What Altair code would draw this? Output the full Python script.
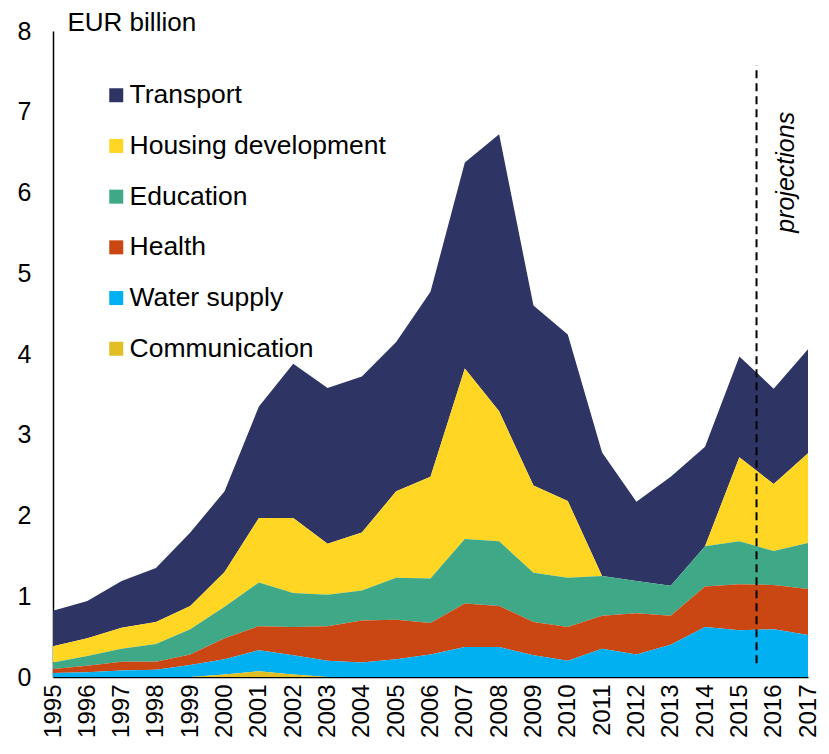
import altair as alt
import pandas as pd

years = list(range(1995, 2018))

series_names = ["Transport", "Housing development", "Education", "Health",
                "Water supply", "Communication"]
colors = ["#2E3464", "#FED623", "#3FA886", "#CA4714", "#00B0F0", "#E1BE23"]

transport = [0.44, 0.46, 0.58, 0.67, 0.91, 1.00, 1.38, 1.91, 1.93, 1.93, 1.85, 2.29,
             2.55, 3.43, 2.23, 2.06, 1.53, 0.98, 1.35, 1.23, 1.25, 1.18, 1.29]
housing = [0.20, 0.22, 0.26, 0.27, 0.29, 0.43, 0.80, 0.93, 0.63, 0.72, 1.07, 1.26,
           2.11, 1.61, 1.08, 0.95, 0.00, 0.00, 0.00, 0.00, 1.04, 0.83, 1.11]
education = [0.08, 0.12, 0.16, 0.22, 0.31, 0.39, 0.54, 0.42, 0.39, 0.37, 0.52, 0.55,
             0.80, 0.80, 0.61, 0.61, 0.49, 0.40, 0.37, 0.50, 0.53, 0.42, 0.57]
health = [0.05, 0.08, 0.11, 0.10, 0.13, 0.26, 0.30, 0.35, 0.43, 0.52, 0.49, 0.39,
          0.54, 0.51, 0.41, 0.42, 0.41, 0.51, 0.36, 0.50, 0.57, 0.55, 0.57]
water = [0.05, 0.06, 0.08, 0.09, 0.15, 0.19, 0.26, 0.24, 0.20, 0.18, 0.22, 0.28,
         0.37, 0.37, 0.27, 0.20, 0.35, 0.28, 0.40, 0.62, 0.58, 0.59, 0.52]
communication = [0.00, 0.00, 0.00, 0.00, 0.00, 0.03, 0.07, 0.03, 0.00, 0.00, 0.00, 0.00,
                 0.00, 0.00, 0.00, 0.00, 0.00, 0.00, 0.00, 0.00, 0.00, 0.00, 0.00]

y_ticks = [0, 1, 2, 3, 4, 5, 6, 7, 8]

projection_year = [2015.5]
projection_line = [0.17, 7.58]
projection_label = ["projections"]
projection_label_pos = [2016.35, 6.25]

series_values = [transport, housing, education, health, water, communication]
rows = []
for name, vals in zip(series_names, series_values):
    rank = len(series_names) - 1 - series_names.index(name)
    for yr, v in zip(years, vals):
        rows.append({"year": yr, "value": v, "series": name, "rank": rank})
df = pd.DataFrame(rows)

FONT = "Arial, Liberation Sans, sans-serif"

area = alt.Chart(df).mark_area(opacity=1).encode(
    x=alt.X("year:Q",
            scale=alt.Scale(domain=[1995, 2017], nice=False, zero=False),
            axis=alt.Axis(values=years, tickCount=len(years) + 2, format="d",
                          labelAngle=270, labelFontSize=24,
                          labelColor="black", ticks=False, grid=False,
                          labelOverlap=False, labelFlush=False, labelBound=False,
                          domainColor="black", domainWidth=1.5, labelPadding=7,
                          title=None)),
    y=alt.Y("value:Q", stack="zero",
            scale=alt.Scale(domain=[0, 8], nice=False),
            axis=alt.Axis(values=y_ticks, tickCount=len(y_ticks) + 2, format="d",
                          ticks=False, grid=False,
                          labelFontSize=25, labelOverlap=False, labelFlush=False,
                          labelColor="black", labelPadding=22, domainColor="black",
                          domainWidth=1.5,
                          title="EUR billion", titleAngle=0, titleAlign="left",
                          titleBaseline="middle", titleX=14, titleY=-9,
                          titleFontSize=26, titleFontWeight="normal",
                          titleColor="black")),
    color=alt.Color("series:N",
                    scale=alt.Scale(domain=series_names, range=colors),
                    legend=alt.Legend(orient="none", legendX=50, legendY=51, title=None,
                                      symbolType="square", symbolSize=196,
                                      symbolStrokeWidth=0, symbolOpacity=1,
                                      labelFontSize=26.5, labelColor="black",
                                      labelLimit=500, rowPadding=23.7, labelOffset=0,
                                      padding=0, direction="vertical")),
    order=alt.Order("rank:Q", sort="ascending"),
)

rule_df = pd.DataFrame({"year": projection_year,
                        "value": [projection_line[0]],
                        "value2": [projection_line[1]]})
rule = alt.Chart(rule_df).mark_rule(color="black", strokeDash=[8, 5], strokeWidth=2).encode(
    x="year:Q", y="value:Q", y2="value2:Q")

text_df = pd.DataFrame({"year": [projection_label_pos[0]],
                        "value": [projection_label_pos[1]],
                        "label": projection_label})
text = alt.Chart(text_df).mark_text(angle=270, fontStyle="italic", fontSize=25,
                                    align="center", baseline="middle",
                                    color="black").encode(
    x="year:Q", y="value:Q", text="label:N")

chart = alt.layer(area, rule, text).properties(
    width=755, height=646,
    autosize=alt.AutoSizeParams(type="none"),
    padding={"left": 45, "top": 23, "right": 13, "bottom": 62},
).configure(font=FONT).configure_view(stroke=None).configure_axisX(
    labelOverlap=False, labelFlush=False
)

chart.save("out.html", embed_options={"renderer": "svg", "actions": False})
